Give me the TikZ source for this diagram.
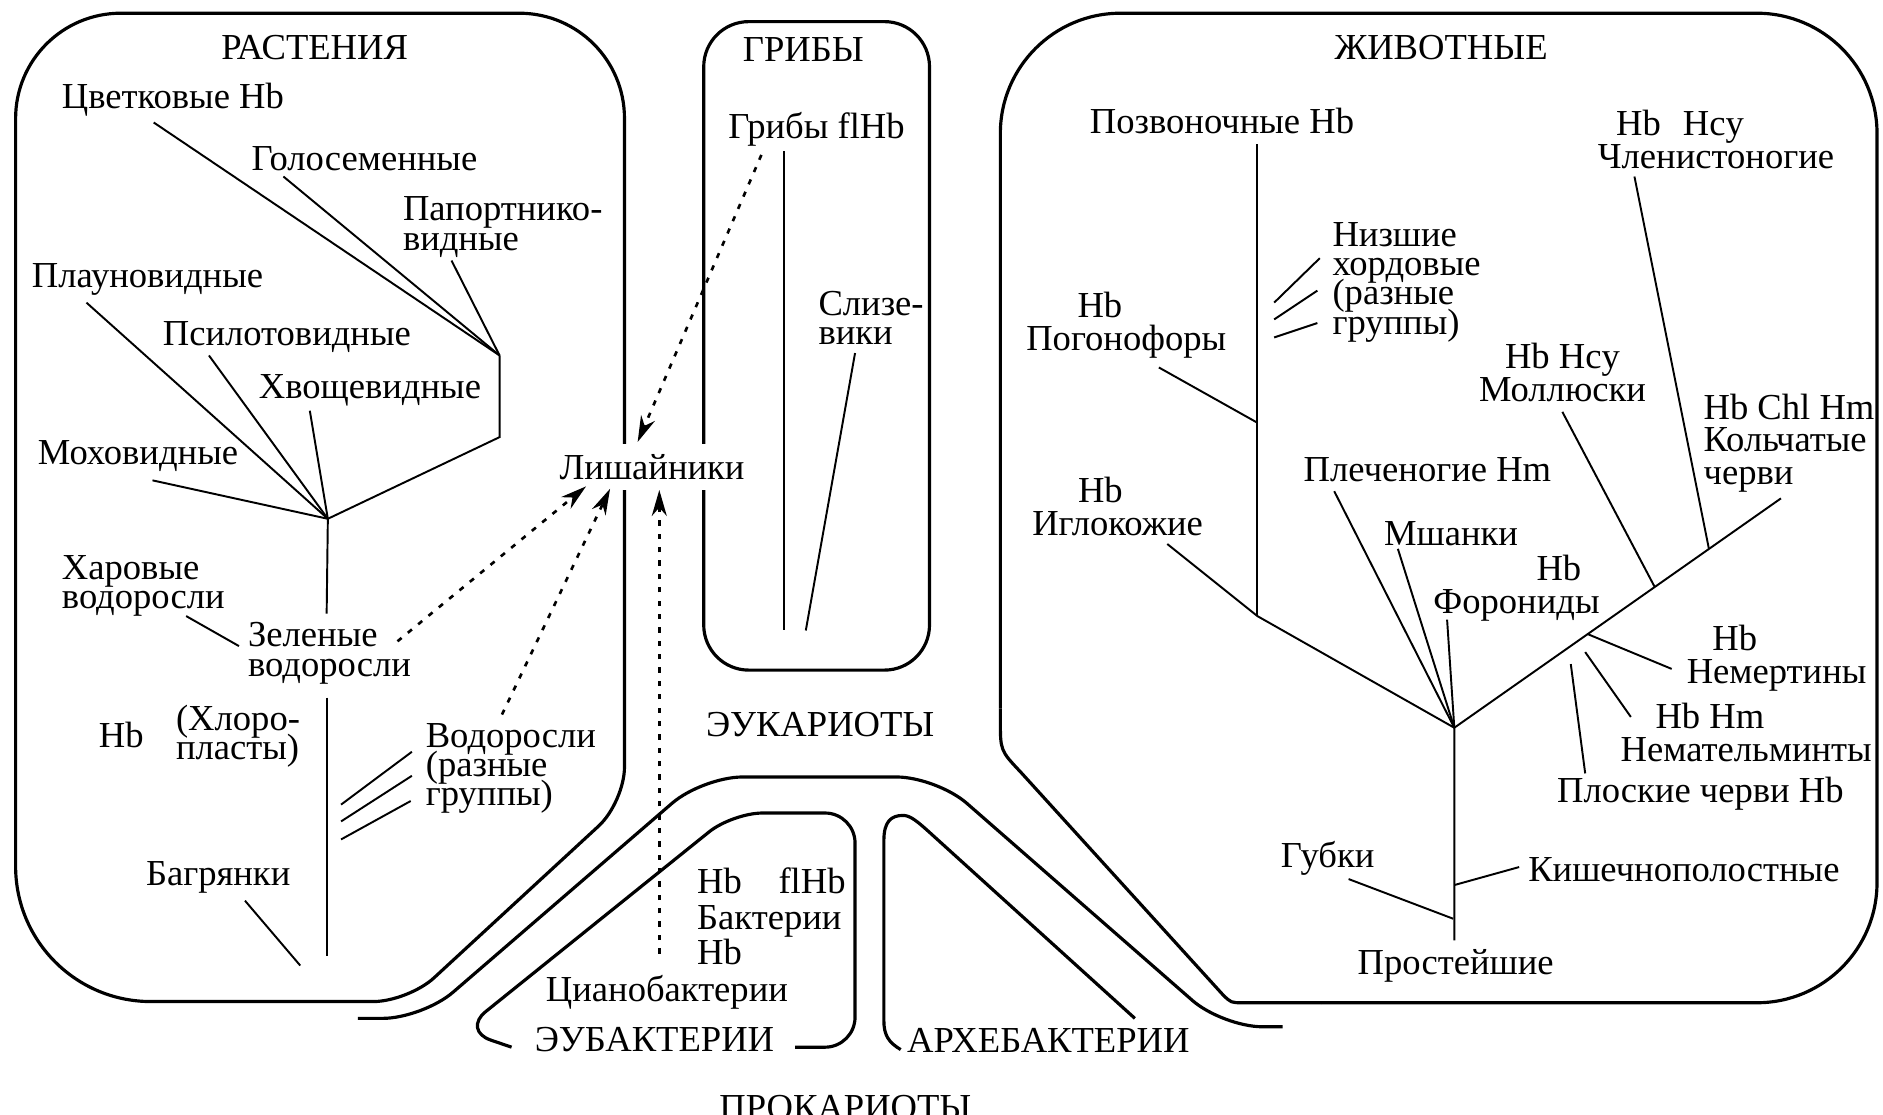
\documentclass[tikz,border=0pt]{standalone}
\usepackage{fontspec}
\setmainfont{Liberation Serif}
\usetikzlibrary{arrows.meta}

\begin{document}
\begin{tikzpicture}[x=0.012cm, y=-0.012cm,
    box/.style={line width=0.9pt, line join=round},
    twig/.style={line width=0.55pt},
    hint/.style={line width=0.75pt, dash pattern=on 1.5pt off 2.3pt,
      -{Stealth[length=2.6mm, width=1.5mm]}},
    lbl/.style={inner sep=0pt, align=left,
      font={\fontsize{10.4}{8.3}\selectfont\lineskiplimit=-20pt}},
    lblw/.style={lbl, font={\fontsize{10.4}{9.3}\selectfont\lineskiplimit=-20pt}}]

  \useasboundingbox (0,0) rectangle (1568,928);

  % Draw the kingdom outlines
  \draw[box] [rounded corners=1.05cm] (13,450) -- (13,11) -- (520,11) -- (520,300)
    [rounded corners=0.35cm] -- (520,668) -- (340,834) -- (200,834)
    [rounded corners=1.35cm] -- (13,834) -- (13,450);
  \draw[box, rounded corners=0.45cm] (586,18) rectangle (774,558);
  \draw[box, rounded corners=1.2cm] (1100,835) -- (1563,835) -- (1563,11) -- (833,11) -- (833,590);
  \draw[box] (833,590) -- (833,600) .. controls (833,625) .. (850,643)
    -- (1018,828) .. controls (1025,835) .. (1035,835) -- (1100,835);

  % Draw the stems of eukaryotes and prokaryotes
  \draw[box, rounded corners=0.4cm] (298,848) -- (352,848) -- (585,647) -- (780,647) -- (1018,855) -- (1068,855);
  \draw[box, rounded corners=0.3cm] (426,872) -- (385,858) -- (610,677) -- (712,677) -- (712,872) -- (662,872);
  \draw[box] (750,874) .. controls (740,868) and (736,862) .. (736,850) -- (736,700)
    .. controls (736,684) and (742,679) .. (752,679) .. controls (758,679) and (764,684) .. (775,694)
    -- (945,848);

  % Plants
  \node[lbl] (plants) at (262,40) {РАСТЕНИЯ};
  \node[lbl, anchor=west] (tsvet) at (51,83) {Цветковые Hb};
  \node[lbl, anchor=west] (golo) at (209,132) {Голосеменные};
  \node[lbl, anchor=west] (papo) at (335,189) {Папортнико-\\видные};
  \node[lbl, anchor=west] (plaun) at (26,233) {Плауновидные};
  \node[lbl, anchor=west] (psilo) at (135,281) {Псилотовидные};
  \node[lbl, anchor=west] (hvosh) at (215,325) {Хвощевидные};
  \node[lbl, anchor=west] (moh) at (31,380) {Моховидные};
  \node[lbl, anchor=west] (harov) at (51,488) {Харовые\\водоросли};
  \node[lbl, anchor=west] (zelen) at (206,544) {Зеленые\\водоросли};
  \node[lbl] (hbpl) at (101,612) {Hb};
  \node[lbl, anchor=west] (hloro) at (146,613) {(Хлоро-\\пласты)};
  \node[lbl, anchor=west] (vodor) at (354,640) {Водоросли\\(разные\\группы)};
  \node[lbl, anchor=west] (bagr) at (121,731) {Багрянки};

  \coordinate (p0) at (273,432);
  \coordinate (p1) at (416,296);
  \coordinate (p2) at (416,364);
  \coordinate (tsvet0) at (128,102);
  \coordinate (golo0) at (236,147);
  \coordinate (papo0) at (376,217);
  \coordinate (plaun0) at (72,252);
  \coordinate (psilo0) at (174,296);
  \coordinate (hvosh0) at (258,342);
  \coordinate (moh0) at (127,400);
  \coordinate (z1) at (272,511);
  \coordinate (z2) at (272,581);
  \coordinate (p3) at (272,796);
  \coordinate (harov0) at (155,513);
  \coordinate (harov1) at (199,538);
  \coordinate (va1) at (343,626);
  \coordinate (vb1) at (284,670);
  \coordinate (va2) at (343,646);
  \coordinate (vb2) at (284,684);
  \coordinate (va3) at (342,667);
  \coordinate (vb3) at (284,699);
  \coordinate (bagr0) at (204,750);
  \coordinate (bagr1) at (250,804);

  \foreach \c in {tsvet0,golo0,papo0}
    \draw[twig] (\c) -- (p1);
  \foreach \c in {plaun0,psilo0,hvosh0,moh0}
    \draw[twig] (\c) -- (p0);
  \draw[twig] (p1) -- (p2) -- (p0) -- (z1);
  \draw[twig] (z2) -- (p3);
  \draw[twig] (harov0) -- (harov1);
  \foreach \i in {1,2,3}
    \draw[twig] (va\i) -- (vb\i);
  \draw[twig] (bagr0) -- (bagr1);

  % Fungi
  \node[lbl] (fungi) at (669,41) {ГРИБЫ};
  \node[lbl, anchor=west] (grib) at (606,108) {Грибы flHb};
  \node[lbl, anchor=west] (slize) at (681,265) {Слизе-\\вики};

  \coordinate (g0) at (653,126);
  \coordinate (g1) at (653,525);
  \coordinate (s0) at (712,294);
  \coordinate (s1) at (671,525);
  \draw[twig] (g0) -- (g1);
  \draw[twig] (s0) -- (s1);

  % Lichens sit over both outlines
  \node[lbl, fill=white, inner sep=3pt] (lish) at (543,389) {Лишайники};

  % Prokaryotes
  \node[lbl] (euk) at (683,603) {ЭУКАРИОТЫ};
  \node[lbl] (eubact) at (545,866) {ЭУБАКТЕРИИ};
  \node[lbl] (arhe) at (873,866) {АРХЕБАКТЕРИИ};
  \node[lbl] (prok) at (704,922) {ПРОКАРИОТЫ};
  \node[lbl, anchor=west, font={\fontsize{10.4}{10.2}\selectfont\lineskiplimit=-20pt}] (bakt) at (580,763)
    {Hb\hspace{1em}flHb\\Бактерии\\Hb};
  \node[lbl, anchor=west] (tsian) at (454,826) {Цианобактерии};

  % Partners of the lichen symbiosis
  \coordinate (zt) at (331,534);
  \coordinate (vt) at (418,595);
  \coordinate (ct) at (549,794);
  \coordinate (gt) at (634,129);
  \coordinate (lz) at (488,405);
  \coordinate (lv) at (508,407);
  \coordinate (lc) at (549,408);
  \coordinate (lg) at (531,368);
  \draw[hint] (zt) -- (lz);
  \draw[hint] (vt) -- (lv);
  \draw[hint] (ct) -- (lc);
  \draw[hint] (gt) -- (lg);

  % Animals
  \node[lbl] (anim) at (1200,40) {ЖИВОТНЫЕ};
  \node[lbl, anchor=west] (pozv) at (907,101) {Позвоночные Hb};
  \node[lbl, anchor=west] (nizsh) at (1109,235) {Низшие\\хордовые\\(разные\\группы)};
  \node[lblw, anchor=west] (pogon) at (854,271) {\hspace*{1.4em}Hb\\Погонофоры};
  \node[lblw, anchor=west] (iglo) at (859,422) {\hspace*{1.25em}Hb\\Иглокожие};
  \node[lbl, anchor=west] (plech) at (1085,391) {Плеченогие Hm};
  \node[lbl, anchor=west] (mshan) at (1152,444) {Мшанки};
  \node[lblw, anchor=west, align=right] (foron) at (1193,490) {Hb\hspace*{0.5em}\\Форониды};
  \node[lblw, anchor=west, align=center] (moll) at (1231,310) {Hb Hcy\\Моллюски};
  \node[lblw, anchor=west] (chlen) at (1330,116) {\hspace*{0.5em}Hb\hspace{0.6em}Hcy\\Членистоногие};
  \node[lblw, anchor=west] (kolch) at (1418,369) {Hb Chl Hm\\Кольчатые\\черви};
  \node[lblw, anchor=west] (nemer) at (1404,548) {\hspace*{0.7em}Hb\\Немертины};
  \node[lblw, anchor=west] (nemat) at (1349,610) {\hspace*{0.95em}Hb Hm\\Немательминты};
  \node[lbl, anchor=west] (plosk) at (1296,661) {Плоские черви Hb};
  \node[lbl, anchor=west] (gubki) at (1066,715) {Губки};
  \node[lbl, anchor=west] (kish) at (1272,724) {Кишечнополостные};
  \node[lbl, anchor=west] (prost) at (1130,804) {Простейшие};

  \coordinate (a0) at (1211,606);
  \coordinate (a1) at (1211,783);
  \coordinate (ch0) at (1047,513);
  \coordinate (ch1) at (1047,120);
  \coordinate (iglo0) at (972,453);
  \coordinate (pogon0) at (965,306);
  \coordinate (pogon1) at (1047,352);
  \coordinate (na1) at (1061,252);
  \coordinate (nb1) at (1099,215);
  \coordinate (na2) at (1061,266);
  \coordinate (nb2) at (1097,242);
  \coordinate (na3) at (1061,281);
  \coordinate (nb3) at (1097,269);
  \coordinate (plech0) at (1111,409);
  \coordinate (mshan0) at (1164,457);
  \coordinate (foron0) at (1205,516);
  \coordinate (ar) at (1483,415);
  \coordinate (nemer0) at (1322,528);
  \coordinate (nemer1) at (1392,557);
  \coordinate (nemat0) at (1320,543);
  \coordinate (nemat1) at (1358,597);
  \coordinate (plosk0) at (1308,553);
  \coordinate (plosk1) at (1320,644);
  \coordinate (moll0) at (1301,343);
  \coordinate (moll1) at (1378,489);
  \coordinate (chlen0) at (1361,147);
  \coordinate (chlen1) at (1423,457);
  \coordinate (gubki0) at (1123,732);
  \coordinate (gubki1) at (1210,765);
  \coordinate (kish0) at (1265,722);
  \coordinate (kish1) at (1211,737);

  \draw[twig] (a1) -- (a0) -- (ar);
  \draw[twig] (a0) -- (ch0) -- (iglo0);
  \draw[twig] (ch0) -- (ch1);
  \draw[twig] (pogon0) -- (pogon1);
  \foreach \i in {1,2,3}
    \draw[twig] (na\i) -- (nb\i);
  \foreach \c in {plech0,mshan0,foron0}
    \draw[twig] (\c) -- (a0);
  \draw[twig] (nemer0) -- (nemer1);
  \draw[twig] (nemat0) -- (nemat1);
  \draw[twig] (plosk0) -- (plosk1);
  \draw[twig] (moll0) -- (moll1);
  \draw[twig] (chlen0) -- (chlen1);
  \draw[twig] (gubki0) -- (gubki1);
  \draw[twig] (kish0) -- (kish1);

\end{tikzpicture}
\end{document}
